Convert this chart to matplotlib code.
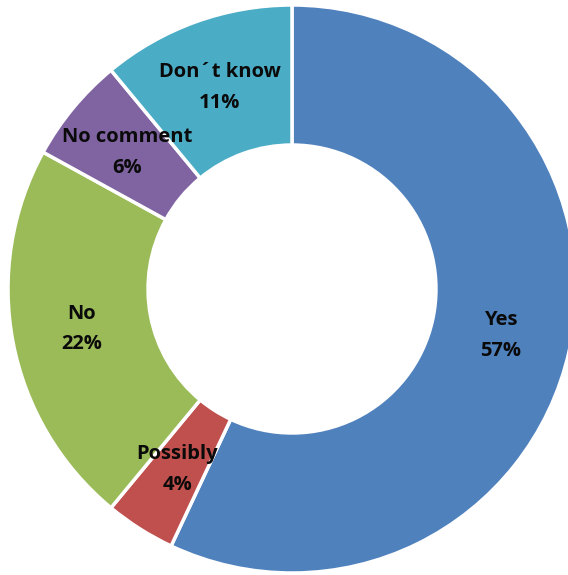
import numpy as np
import matplotlib
matplotlib.use("Agg")
import matplotlib.pyplot as plt

categories = ["Yes", "Possibly", "No", "No comment", "Don\u00b4t know"]
values = [57, 4, 22, 6, 11]
colors = ["#4F81BD", "#C0504D", "#9BBB59", "#8064A2", "#4BACC6"]

W, H = 568, 575
fig = plt.figure(figsize=(W / 100, H / 100), dpi=100)
# donut centre at (292, 289) px, outer radius 284 px
cx, cy, R = 292, 289, 284
ax = fig.add_axes([(cx - R) / W, (H - cy - R) / H, 2 * R / W, 2 * R / H])
ax.set_aspect("equal")
ax.axis("off")

inner = 0.507
wedges, _ = ax.pie(values, colors=colors, startangle=90, counterclock=False,
                   radius=1, center=(0, 0), frame=False,
                   wedgeprops=dict(width=1 - inner, edgecolor="white", linewidth=2.5))
ax.set_xlim(-1, 1)
ax.set_ylim(-1, 1)

total = sum(values)
cum = 0
label_r = (1 + inner) / 2
for name, v in zip(categories, values):
    mid = (cum + v / 2) / total * 360
    cum += v
    ang = np.deg2rad(90 - mid)
    x, y = label_r * np.cos(ang), label_r * np.sin(ang)
    ax.text(x, y, f"{name}\n{v}%", ha="center", va="center",
            fontsize=14.5, fontweight="bold", family="Open Sans",
            color="#0a0a0a", linespacing=1.7)

fig.savefig("out.png", dpi=100)
